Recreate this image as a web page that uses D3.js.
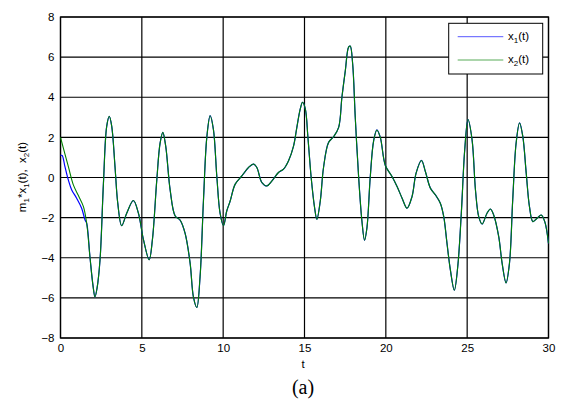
<!DOCTYPE html>
<html><head><meta charset="utf-8">
<script src="https://cdn.jsdelivr.net/npm/d3@7"></script>
<style>body{margin:0;background:#fff}svg{display:block}text{font-family:"Liberation Sans",Arial,sans-serif}text.serif{font-family:"Liberation Serif","Times New Roman",serif}</style>
</head><body>
<script>
const times = [0,0.48,0.79,1.1,1.41,1.61,1.81,2.0,2.12,2.25,2.43,2.64,2.84,3.0,3.15,3.35,3.52,3.76,4.07,4.48,4.79,5.1,5.45,5.65,5.92,6.12,6.29,6.47,6.74,7.05,7.35,7.66,7.97,8.17,8.38,8.58,8.79,9.0,9.2,9.4,9.61,9.81,10.02,10.22,10.43,10.74,11.15,11.56,11.87,12.07,12.38,12.69,13.0,13.4,13.71,14.02,14.33,14.53,14.74,14.88,15.05,15.21,15.41,15.62,15.76,15.97,16.17,16.48,16.79,17.1,17.3,17.51,17.71,17.81,17.96,18.12,18.33,18.53,18.69,18.84,19.04,19.25,19.45,19.66,19.97,20.38,20.69,21.0,21.3,21.61,21.86,22.19,22.43,22.74,23.05,23.35,23.56,23.76,23.97,24.21,24.42,24.64,24.85,25.05,25.3,25.51,25.71,25.92,26.22,26.43,26.63,26.94,27.15,27.39,27.6,27.8,28.01,28.22,28.42,28.63,28.83,29.04,29.3,29.55,29.77,30.0];
const x2Values = [2.0,0.55,-0.37,-0.9,-1.45,-2.28,-3.95,-5.4,-5.95,-5.5,-4.1,-0.28,2.55,3.05,2.55,0.55,-1.28,-2.4,-1.78,-1.15,-1.78,-3.1,-4.1,-3.1,-0.12,1.7,2.25,1.55,-0.62,-1.92,-2.12,-2.78,-4.28,-5.95,-6.48,-4.95,-1.12,2.05,3.08,2.4,0.05,-1.78,-2.4,-1.67,-1.17,-0.33,0.08,0.5,0.67,0.5,-0.25,-0.42,-0.17,0.25,0.42,0.84,1.58,2.5,3.42,3.75,3.42,2.0,0.0,-1.5,-2.08,-1.17,0.5,1.75,2.03,2.5,4.0,5.33,6.5,6.55,5.67,3.0,0.0,-2.17,-3.13,-2.5,0.0,1.83,2.37,2.0,0.6,0.05,-0.45,-1.03,-1.53,-0.95,0.22,0.85,0.3,-0.53,-0.87,-1.28,-1.95,-3.28,-4.62,-5.62,-4.45,-1.78,1.38,2.89,1.89,-0.62,-1.95,-2.32,-1.78,-1.57,-1.87,-2.95,-4.28,-5.25,-4.28,-1.12,1.72,2.72,2.05,0.22,-1.45,-2.2,-2.03,-1.87,-2.2,-3.28];
// m1*x1(t): differs from x2 only at the start, then coincides with it
const x1HeadTimes = [0,0.1,0.27,0.48,0.69,0.99,1.3,1.51];
const x1HeadValues = [1.1,1.1,0.55,-0.12,-0.62,-1.03,-1.53,-2.12];
const x1MergeTime = 1.61;
const xTicks = [0,5,10,15,20,25,30];
const yTicks = [-8,-6,-4,-2,0,2,4,6,8];

const W = 563, H = 412;
const L = 60.5, R = 548.5, T = 17, B = 338;
const svg = d3.select("body").append("svg").attr("width", W).attr("height", H);

const x = d3.scaleLinear().domain([0, 30]).range([L, R]);
const y = d3.scaleLinear().domain([-8, 8]).range([B, T]);

// grid
const g = svg.append("g");
g.selectAll("line.vg").data(xTicks).join("line")
  .attr("x1", d => x(d)).attr("x2", d => x(d)).attr("y1", T).attr("y2", B)
  .attr("stroke", "#000").attr("stroke-width", 1.2);
g.selectAll("line.hg").data(yTicks).join("line")
  .attr("x1", L).attr("x2", R).attr("y1", d => y(d)).attr("y2", d => y(d))
  .attr("stroke", "#000").attr("stroke-width", 1.2);
svg.append("rect").attr("x", L).attr("y", T).attr("width", R - L).attr("height", B - T)
  .attr("fill", "none").attr("stroke", "#000").attr("stroke-width", 1.3);

const xa = svg.append("g").attr("transform", `translate(0,${B})`)
  .call(d3.axisBottom(x).tickValues(xTicks).tickSize(0).tickPadding(6).tickFormat(d3.format("d")));
xa.select(".domain").remove();
xa.selectAll("text").attr("font-size", 11.5).attr("fill", "#000");
const ya = svg.append("g").attr("transform", `translate(${L},0)`)
  .call(d3.axisLeft(y).tickValues(yTicks).tickSize(0).tickPadding(6).tickFormat(d3.format("d")));
ya.select(".domain").remove();
ya.selectAll("text").attr("font-size", 11.5).attr("fill", "#000");

// data
const x2Data = times.map((t, i) => ({t, v: x2Values[i]}));
const x1Data = x1HeadTimes.map((t, i) => ({t, v: x1HeadValues[i]}))
  .concat(x2Data.filter(d => d.t >= x1MergeTime));
const line = d3.line().x(d => x(d.t)).y(d => y(d.v)).curve(d3.curveCatmullRom.alpha(0.5));
const plot = svg.append("g");
plot.append("path").datum(x1Data).attr("d", line).attr("fill", "none").attr("stroke", "#0000ff").attr("stroke-width", 1.2);
plot.append("path").datum(x2Data).attr("d", line).attr("fill", "none").attr("stroke", "#008000").attr("stroke-width", 1.1);

// axis titles
svg.append("text").attr("x", 303).attr("y", 368).attr("text-anchor", "middle").attr("font-size", 11.5).text("t");
const yl = svg.append("text").attr("transform", "translate(26,177) rotate(-90)").attr("text-anchor", "middle").attr("font-size", 11.5);
yl.append("tspan").text("m");
yl.append("tspan").attr("font-size", 8).attr("dy", 3).text("1");
yl.append("tspan").attr("dy", -3).text("*x");
yl.append("tspan").attr("font-size", 8).attr("dy", 3).text("1");
yl.append("tspan").attr("dy", -3).text("(t),\u00a0\u00a0x");
yl.append("tspan").attr("font-size", 8).attr("dy", 3).text("2");
yl.append("tspan").attr("dy", -3).text("(t)");

svg.append("text").attr("class", "serif").attr("x", 303).attr("y", 394).attr("text-anchor", "middle")
  .attr("font-size", 20).text("(a)");

// legend
const series = [{name: "1", color: "#0000ff"}, {name: "2", color: "#008000"}];
const lg = svg.append("g");
lg.append("rect").attr("x", 448.7).attr("y", 23.3).attr("width", 94).attr("height", 50.7)
  .attr("fill", "#fff").attr("stroke", "#000").attr("stroke-width", 1);
series.forEach((s, i) => {
  const yy = 36.7 + i * 23.3;
  lg.append("line").attr("x1", 457.7).attr("x2", 503.3).attr("y1", yy).attr("y2", yy)
    .attr("stroke", s.color).attr("stroke-width", 1).attr("opacity", 0.65);
  const tx = lg.append("text").attr("x", 508).attr("y", yy + 3).attr("font-size", 11.5);
  tx.append("tspan").text("x");
  tx.append("tspan").attr("font-size", 8).attr("dy", 3).text(s.name);
  tx.append("tspan").attr("dy", -3).text("(t)");
});
</script>
</body></html>
